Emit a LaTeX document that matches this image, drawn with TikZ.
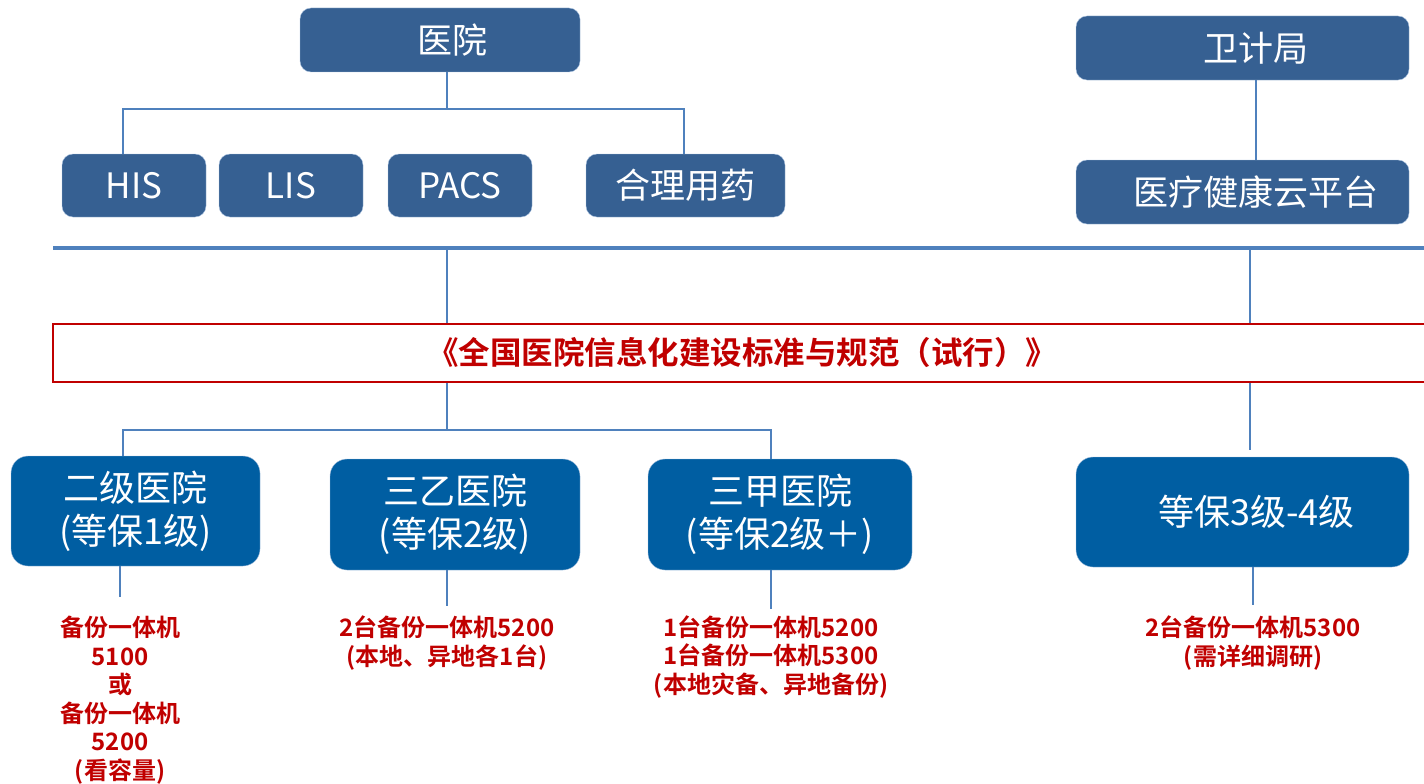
\documentclass[tikz,border=0pt]{standalone}
\usepackage{fontspec}
\setmainfont{Noto Sans CJK SC}[BoldFont={Noto Sans CJK SC Bold}]
\usetikzlibrary{positioning}
\definecolor{topblue}{RGB}{54,96,146}
\definecolor{lowblue}{RGB}{0,94,162}
\definecolor{linkblue}{RGB}{79,129,189}
\definecolor{darkred}{RGB}{192,0,0}
\tikzstyle{sysbox} = [rectangle, rounded corners=11pt, text centered, draw=linkblue!50, fill=topblue, text=white, inner sep=0pt, font=\fontsize{35}{40}\selectfont]
\tikzstyle{gradebox} = [rectangle, rounded corners=17pt, align=center, draw=linkblue!50, fill=lowblue, text=white, inner sep=0pt, font=\fontsize{36}{43}\selectfont]
\tikzstyle{stdbox} = [rectangle, draw=darkred, line width=2pt, text=darkred, minimum height=58pt, font=\fontsize{31.5}{36}\selectfont\bfseries]
\tikzstyle{note} = [align=center, text=darkred, inner sep=0pt, font=\fontsize{24}{28.5}\selectfont\bfseries]
\tikzstyle{link} = [draw=linkblue, line width=1.5pt]
\tikzstyle{divider} = [draw=linkblue, line width=4pt]

\begin{document}
\begin{tikzpicture}[x=1pt, y=-1pt]
\useasboundingbox (0,0) rectangle (1424,784);

% hospital side
\node (yy) [sysbox, minimum width=280pt, minimum height=64pt] at (440,40) {\hspace*{24pt}医院};
\node (his) [sysbox, minimum width=144pt, minimum height=63pt] at (134,185.5) {HIS};
\node (lis) [sysbox, minimum width=144pt, minimum height=63pt] at (291,185.5) {LIS};
\node (pacs) [sysbox, minimum width=144pt, minimum height=63pt] at (460,185.5) {PACS};
\node (hlyy) [sysbox, minimum width=199pt, minimum height=63pt] at (685.5,185.5) {合理用药};

% health bureau side
\node (wjj) [sysbox, minimum width=333pt, minimum height=64pt] at (1242.5,48) {\hspace*{26pt}卫计局};
\node (cloud) [sysbox, minimum width=333pt, minimum height=64pt] at (1242.5,192) {\hspace*{26pt}医疗健康云平台};

% standard
\coordinate (divL) at (53,248);
\coordinate (divR) at (1432,248);
\node (std) [stdbox, minimum width=1379pt] at (742,353) {《全国医院信息化建设标准与规范（试行）》};

% grades
\node (ej) [gradebox, minimum width=249pt, minimum height=110pt] at (135.5,511) {二级医院\\(等保1级)};
\node (sy) [gradebox, minimum width=250pt, minimum height=111pt] at (455,514.5) {三乙医院\\(等保2级)};
\node (sj) [gradebox, minimum width=264pt, minimum height=111pt] at (780,514.5) {三甲医院\\(等保2级＋)};
\node (dj) [gradebox, minimum width=333pt, minimum height=110pt] at (1242.5,512) {\hspace*{28pt}等保3级-4级};

% backup notes
\node (t1) [note] at (120,700) {备份一体机\\5100\\或\\备份一体机\\5200\\(看容量)};
\node (t2) [note] at (447,643) {2台备份一体机5200\\(本地、异地各1台)};
\node (t3) [note] at (771,657) {1台备份一体机5200\\1台备份一体机5300\\(本地灾备、异地备份)};
\node (t4) [note] at (1253,643) {2台备份一体机5300\\(需详细调研)};

\coordinate (bus1) at (447,109);
\coordinate (bus2) at (447,430);
\coordinate (rend) at (1250,450);

\draw [link] (yy.south -| bus1) -- (bus1);
\draw [link] ([xshift=-11pt]his.north) |- (bus1) -| ([xshift=-1.5pt]hlyy.north);
\draw [link] ([xshift=13.5pt]wjj.south) -- ([xshift=13.5pt]cloud.north);

\draw [divider] (divL) -- (divR);
\draw [link] (bus2 |- divL) -- (bus2 |- std.north);
\draw [link] (rend |- divL) -- (rend |- std.north);
\draw [link] (bus2 |- std.south) -- (bus2);
\draw [link] ([xshift=-12.5pt]ej.north) |- (bus2) -| ([xshift=-9pt]sj.north);
\draw [link] (rend |- std.south) -- (rend);

\draw [link, shorten >=19pt] (t1 |- ej.south) -- (t1.north);
\draw [link, shorten >=10pt] (t2 |- sy.south) -- (t2.north);
\draw [link, shorten >=6pt] (t3 |- sj.south) -- (t3.north);
\draw [link, shorten >=11pt] (t4 |- dj.south) -- (t4.north);

\end{tikzpicture}
\end{document}
